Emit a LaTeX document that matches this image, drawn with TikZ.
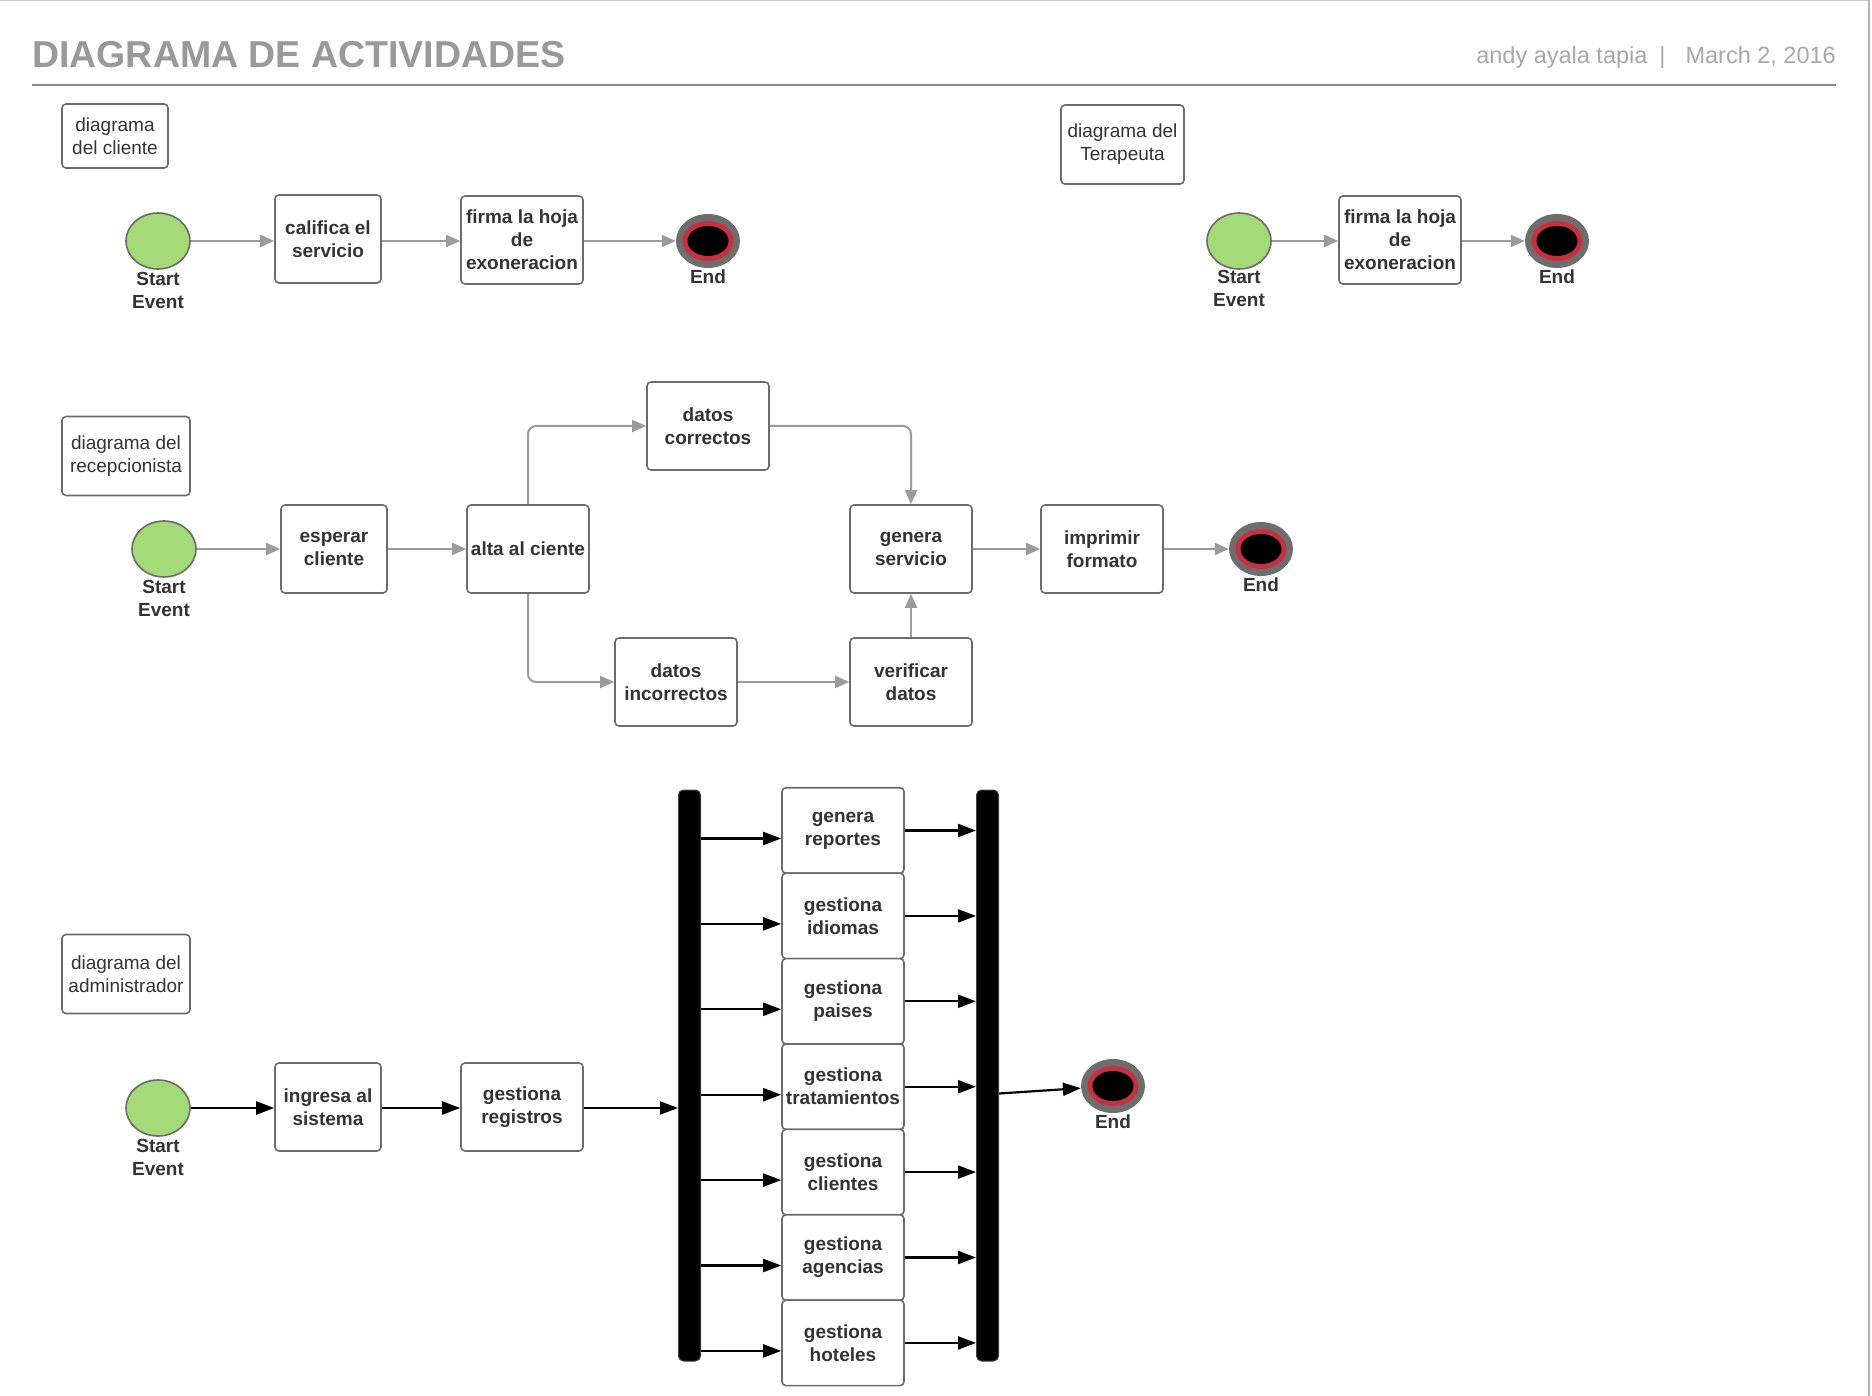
\documentclass[tikz,border=0pt]{standalone}
\usepackage{fontspec}
\setmainfont{Liberation Sans}
\usepackage{tikz}
\usepackage{xcolor}
\usetikzlibrary{positioning,shapes.geometric,arrows.meta,calc}

\definecolor{boxline}{HTML}{6B6B6B}
\definecolor{txt}{HTML}{333333}
\definecolor{flowc}{HTML}{9B9B9B}
\definecolor{startfill}{HTML}{A3D977}
\definecolor{endring}{HTML}{6E6E6E}
\definecolor{endred}{HTML}{C8303F}
\definecolor{hdr}{HTML}{999999}
\definecolor{hdrline}{HTML}{8A8A8A}

\tikzset{
  lbl/.style={rectangle, draw=boxline, line width=1.6pt, rounded corners=4pt, fill=white, text=txt, align=center, inner sep=2pt, font=\fontsize{19}{23}\selectfont},
  act/.style={lbl, font=\bfseries\fontsize{19}{23}\selectfont, minimum width=122pt, minimum height=88pt},
  startev/.style={ellipse, draw=boxline, line width=1.6pt, fill=startfill, minimum width=64pt, minimum height=56pt, inner sep=0pt},
  endev/.style={ellipse, fill=endring, minimum width=64pt, minimum height=54pt, inner sep=0pt,
    path picture={\fill[endred] (path picture bounding box.center) ellipse [x radius=25.5pt, y radius=20pt];
                  \fill[black] (path picture bounding box.center) ellipse [x radius=20.5pt, y radius=15pt];}},
  evtxt/.style={inner sep=0pt, align=center, text=txt, font=\bfseries\fontsize{19}{23}\selectfont},
  bar/.style={rectangle, fill=black, draw=black!75, line width=1pt, rounded corners=5pt, minimum width=22pt, minimum height=571pt, inner sep=0pt},
  flow/.style={draw=flowc, line width=2pt, rounded corners=8pt, -{Triangle[length=14pt,width=12pt]}},
  adm/.style={draw=black, line width=2.2pt, -{Triangle[length=18pt,width=13pt]}}
}

\begin{document}
\begin{tikzpicture}[x=1pt, y=-1pt]
\useasboundingbox (0,0) rectangle (1872,1396);
\draw[black!22, line width=1.2pt] (0,0.6) -- (1869,0.6);
\draw[black!30, line width=2pt] (1869,0) -- (1869,1396);

\node[anchor=base west, inner sep=0pt, text=hdr, font=\bfseries\fontsize{37.5}{44}\selectfont] (ttl) at (32,68) {DIAGRAMA DE ACTIVIDADES};
\node[anchor=base east, inner sep=0pt, text=hdr!85, font=\fontsize{23.5}{27}\selectfont] (autor) at (1836,64) {andy ayala tapia\hspace{12pt}|\hspace{20pt}March 2, 2016};
\draw[hdrline, line width=2pt] (32,85) -- (1836,85);

\node[lbl, minimum width=106pt, minimum height=64pt] (dcli) at (115,136) {diagrama\\del cliente};
\node[startev] (s1) at (158,241) {};
\node[evtxt, below=2pt of s1] (s1t) {Start\\Event};
\node[act, minimum width=106pt] (cal) at (328,239) {califica el\\servicio};
\node[act] (fir1) at (522,240) {firma la hoja\\de\\exoneracion};
\node[endev] (e1) at (708,241) {};
\node[evtxt, below=1pt of e1] (e1t) {End};
\draw[flow] (s1) -- (s1 -| cal.west);
\draw[flow] (cal.east |- s1) -- (s1 -| fir1.west);
\draw[flow] (fir1.east |- s1) -- (e1);

\node[lbl, minimum width=123pt, minimum height=79pt] (dter) at (1122.5,144.5) {diagrama del\\Terapeuta};
\node[startev] (s2) at (1239,241) {};
\node[evtxt, below=0pt of s2] (s2t) {Start\\Event};
\node[act] (fir2) at (1400,240) {firma la hoja\\de\\exoneracion};
\node[endev] (e2) at (1557,241) {};
\node[evtxt, below=1pt of e2] (e2t) {End};
\draw[flow] (s2) -- (s2 -| fir2.west);
\draw[flow] (fir2.east |- e2) -- (e2);

\node[lbl, minimum width=128pt, minimum height=79pt] (drec) at (126,456) {diagrama del\\recepcionista};
\node[startev] (s3) at (164,549) {};
\node[evtxt, below=2pt of s3] (s3t) {Start\\Event};
\node[act, minimum width=106pt] (esp) at (334,549) {esperar\\cliente};
\node[act] (alta) at (528,549) {alta al ciente};
\node[act] (dcor) at (708,426) {datos\\correctos};
\node[act] (dinc) at (676,682) {datos\\incorrectos};
\node[act] (gen) at (911,549) {genera\\servicio};
\node[act] (ver) at (911,682) {verificar\\datos};
\node[act] (imp) at (1102,549) {imprimir\\formato};
\node[endev] (e3) at (1261,549) {};
\node[evtxt, below=1pt of e3] (e3t) {End};
\draw[flow] (s3) -- (esp);
\draw[flow] (esp) -- (alta);
\draw[flow] (alta) |- (dcor);
\draw[flow] (dcor) -| (gen);
\draw[flow] (alta) |- (dinc);
\draw[flow] (dinc) -- (ver);
\draw[flow] (ver) -- (gen);
\draw[flow] (gen) -- (imp);
\draw[flow] (imp) -- (e3);

\node[lbl, minimum width=128pt, minimum height=79pt] (dadm) at (126,974) {diagrama del\\administrador};
\node[startev] (s4) at (158,1108) {};
\node[evtxt, below=2pt of s4] (s4t) {Start\\Event};
\node[act, minimum width=106pt] (ing) at (328,1107) {ingresa al\\sistema};
\node[act] (reg) at (522,1107) {gestiona\\registros};
\node[bar] (f1) at (689.5,1075.5) {};
\node[bar] (f2) at (987.5,1075.5) {};
\foreach \nm/\txt [count=\i from 0] in {rep/genera\\reportes, idi/gestiona\\idiomas, pai/gestiona\\paises, tra/gestiona\\tratamientos, cli/gestiona\\clientes, age/gestiona\\agencias, hot/gestiona\\hoteles}{
  \node[act, minimum height=85.5pt] (\nm) at (843,830.5+85.4*\i) {\txt};
  \draw[adm] ($(\nm.west -| f1.east)+(0,8)$) -- ($(\nm.west)+(0,8)$);
  \draw[adm] (\nm.east) -- (\nm.east -| f2.west);
}
\node[endev] (e4) at (1113,1086) {};
\node[evtxt, below=1pt of e4] (e4t) {End};
\draw[adm] (s4) -- (s4 -| ing.west);
\draw[adm] (ing.east |- s4) -- (s4 -| reg.west);
\draw[adm] (reg.east |- s4) -- (s4 -| f1.west);
\draw[adm] ($(f2.east)+(0,18)$) -- (e4);
\end{tikzpicture}
\end{document}
